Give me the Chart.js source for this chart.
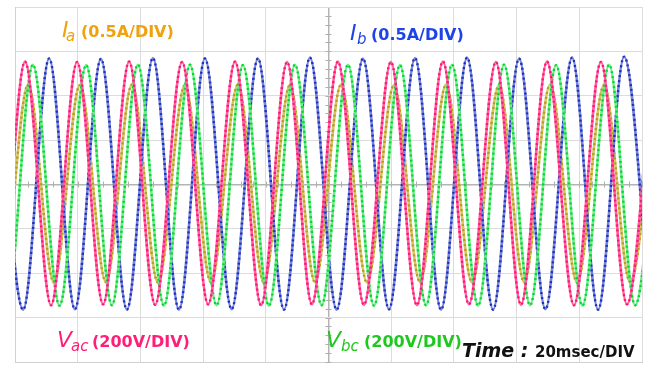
<!DOCTYPE html>
<html>
<head>
<meta charset="utf-8">
<script src="https://cdn.jsdelivr.net/npm/chart.js@4.4.1/dist/chart.umd.min.js"></script>
<style>
  body { margin: 0; background: #ffffff; }
  #wrap { width: 651px; height: 365px; position: relative; }
</style>
</head>
<body>
<div id="wrap"><canvas id="scope" width="651" height="365"></canvas></div>
<script>
// time axis: 20 msec/DIV, 10 divisions; amplitude axis in divisions (8 divisions)
const timeTicks = [0, 20, 40, 60, 80, 100, 120, 140, 160, 180, 200];
const divTicks = [-4, -3, -2, -1, 0, 1, 2, 3, 4];

// peak / trough instants (msec) and levels (DIV)
const vacTimes = [-13.4, -5.1, 3.2, 11.5, 19.8, 28.1, 36.4, 44.7, 53.3, 61.6, 70.2, 78.5, 86.8, 94.7,
    103.0, 111.3, 119.9, 128.2, 136.5, 144.8, 153.4, 161.4, 169.7, 178.3, 186.9, 195.2, 203.5];
const vacLevels = [2.77, -2.70, 2.77, -2.72, 2.76, -2.70, 2.77, -2.71, 2.76, -2.70, 2.77, -2.72, 2.76, -2.70,
    2.77, -2.71, 2.76, -2.72, 2.77, -2.70, 2.76, -2.71, 2.77, -2.72, 2.76, -2.70, 2.77];

const vbcTimes = [-10.9, -2.6, 5.7, 14.2, 22.7, 30.9, 39.2, 47.5, 55.8, 64.3, 72.7, 81.0, 89.3, 97.8,
    106.2, 114.5, 122.8, 131.1, 139.4, 147.7, 156.0, 164.3, 172.6, 181.0, 189.5, 197.8, 206.1];
const vbcLevels = [2.70, -2.72, 2.70, -2.73, 2.69, -2.72, 2.70, -2.73, 2.70, -2.72, 2.69, -2.73, 2.70, -2.72,
    2.70, -2.73, 2.69, -2.72, 2.70, -2.73, 2.70, -2.72, 2.69, -2.73, 2.70, -2.72, 2.70];

const ibTimes = [-5.7, 2.6, 10.9, 19.1, 27.4, 35.7, 44.0, 52.3, 60.6, 69.1, 77.5, 85.8, 94.1,
    102.6, 111.0, 119.3, 127.6, 135.9, 144.2, 152.5, 160.8, 169.2, 177.7, 186.0, 194.3, 202.6];
const ibLevels = [2.84, -2.82, 2.84, -2.81, 2.83, -2.82, 2.85, -2.82, 2.84, -2.81, 2.84, -2.82, 2.86,
    -2.82, 2.84, -2.81, 2.85, -2.82, 2.86, -2.82, 2.84, -2.81, 2.86, -2.82, 2.88, -2.82];

const iaTimes = [-12.4, -4.2, 4.2, 12.4, 20.7, 29.0, 37.3, 45.6, 54.2, 62.5, 71.1, 79.4, 87.7, 95.7,
    104.0, 112.3, 120.9, 129.2, 137.5, 145.8, 154.4, 162.4, 170.7, 179.3, 187.9, 196.2, 204.5];
const iaLevels = [2.25, -2.20, 2.25, -2.21, 2.24, -2.20, 2.25, -2.21, 2.24, -2.20, 2.25, -2.21, 2.24, -2.20,
    2.25, -2.21, 2.24, -2.20, 2.25, -2.21, 2.24, -2.20, 2.25, -2.21, 2.24, -2.20, 2.25];

function toPoints(times, levels) {
    return times.map((t, i) => ({ x: t, y: levels[i] }));
}

// each trace = light solid line + darker dotted overlay (scope sample dots)
function trace(times, levels, lineColor, dotColor, order) {
    const pts = toPoints(times, levels);
    return [
        {
            data: pts,
            borderColor: dotColor,
            borderWidth: 2.4,
            borderDash: [2, 3],
            pointRadius: 0,
            cubicInterpolationMode: "monotone",
            order: order
        },
        {
            data: pts,
            borderColor: lineColor,
            borderWidth: 2.6,
            pointRadius: 0,
            cubicInterpolationMode: "monotone",
            order: order + 0.5
        }
    ];
}

const labelPlugin = {
    id: "scopeLabels",
    beforeDatasetsDraw(chart) {
        const ctx = chart.ctx;
        const xs = chart.scales.x;
        const ys = chart.scales.y;
        const cx = xs.getPixelForValue(100);
        const cy = ys.getPixelForValue(0);
        ctx.save();
        ctx.strokeStyle = "#b0b0b0";
        ctx.lineWidth = 1;
        ctx.beginPath();
        for (let v = -4; v <= 4; v += 0.2) {
            const y = Math.round(ys.getPixelForValue(v)) + 0.5;
            ctx.moveTo(cx - 3, y);
            ctx.lineTo(cx + 3, y);
        }
        for (let t = 0; t <= 200; t += 4) {
            const x = Math.round(xs.getPixelForValue(t)) + 0.5;
            ctx.moveTo(x, cy - 3);
            ctx.lineTo(x, cy + 3);
        }
        ctx.stroke();
        ctx.restore();
    },
    afterDraw(chart) {
        const ctx = chart.ctx;
        ctx.save();
        ctx.textBaseline = "alphabetic";
        ctx.textAlign = "left";

        function put(text, x, y, font, color) {
            ctx.font = font;
            ctx.fillStyle = color;
            ctx.fillText(text, x, y);
        }

        const big = "italic 22px 'DejaVu Sans'";
        const sub = "italic 15px 'DejaVu Sans'";
        const unit = "bold 16px 'DejaVu Sans'";

        put("I", 62, 37, big, "#f0a20c");
        put("a", 66, 41, sub, "#f0a20c");
        put("(0.5A/DIV)", 81, 37, unit, "#f0a20c");

        put("I", 350, 40, big, "#1d44e6");
        put("b", 357, 44, sub, "#1d44e6");
        put("(0.5A/DIV)", 371, 40, unit, "#1d44e6");

        put("V", 57, 347, big, "#ff1f78");
        put("ac", 71, 351, sub, "#ff1f78");
        put("(200V/DIV)", 92, 347, unit, "#ff1f78");

        put("V", 326, 347, big, "#1ec81e");
        put("bc", 341, 351, sub, "#1ec81e");
        put("(200V/DIV)", 364, 347, unit, "#1ec81e");

        put("Time :", 462, 357, "italic bold 19px 'DejaVu Sans'", "#111111");
        put("20msec/DIV", 535, 357, "bold 15px 'DejaVu Sans'", "#111111");
        ctx.restore();
    }
};

new Chart(document.getElementById("scope"), {
    type: "line",
    data: {
        datasets: [
            ...trace(vacTimes, vacLevels, "#ff5e9c", "#ff1476", 1),
            ...trace(vbcTimes, vbcLevels, "#72ea8c", "#00d82e", 2),
            ...trace(ibTimes, ibLevels, "#7885d2", "#1c2ec6", 3),
            ...trace(iaTimes, iaLevels, "#d4c46c", "#b89c12", 4)
        ]
    },
    options: {
        responsive: false,
        animation: false,
        events: [],
        layout: {
            padding: { left: 15, top: 7, right: 9, bottom: 3 }
        },
        plugins: {
            legend: { display: false },
            tooltip: { enabled: false }
        },
        scales: {
            x: {
                type: "linear",
                min: timeTicks[0],
                max: timeTicks[timeTicks.length - 1],
                afterBuildTicks: axis => {
                    axis.ticks = timeTicks.map(v => ({ value: v }));
                },
                ticks: { display: false },
                grid: {
                    drawTicks: false,
                    color: c => c.tick && c.tick.value === 100 ? "#b4b4b4" : "#dcdcdc",
                    lineWidth: c => c.tick && c.tick.value === 100 ? 1.5 : 1
                },
                border: { display: true, color: "#d0d0d0" }
            },
            y: {
                type: "linear",
                min: divTicks[0],
                max: divTicks[divTicks.length - 1],
                afterBuildTicks: axis => {
                    axis.ticks = divTicks.map(v => ({ value: v }));
                },
                ticks: { display: false },
                grid: {
                    drawTicks: false,
                    color: c => c.tick && c.tick.value === 0 ? "#b4b4b4" : "#dcdcdc",
                    lineWidth: c => c.tick && c.tick.value === 0 ? 1.5 : 1
                },
                border: { display: true, color: "#d0d0d0" }
            }
        }
    },
    plugins: [labelPlugin]
});
</script>
</body>
</html>
